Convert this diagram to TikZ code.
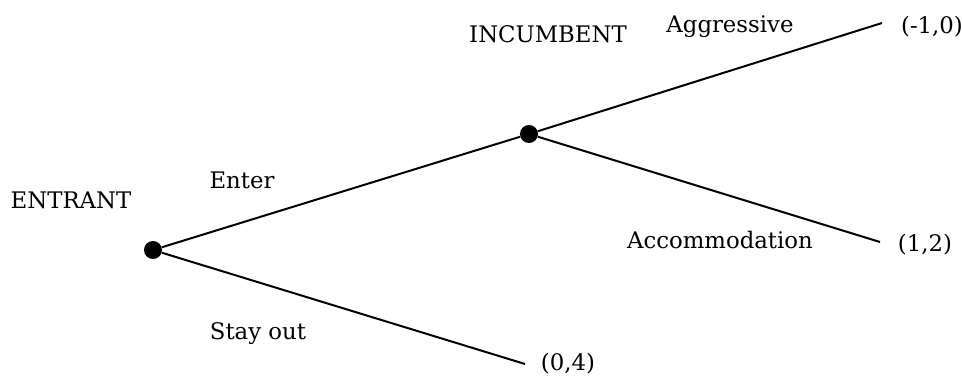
\documentclass[tikz,border=0pt]{standalone}
\usepackage{fontspec}
\setmainfont{DejaVu Serif}
\begin{document}
\begin{tikzpicture}[x=1pt,y=-1pt,
  lbl/.style={inner sep=0pt, font=\fontsize{22.8}{26}\selectfont},
  dot/.style={circle, fill=black, inner sep=0pt, minimum size=18pt},
  branch/.style={line width=2pt}]
\useasboundingbox (0,0) rectangle (962,377);
\node[dot] (root) at (153,250) {};
\node[dot] (inc) at (529,134) {};
\coordinate (agg) at (882,23);
\coordinate (acc) at (880,242);
\coordinate (out) at (525,364);
\draw[branch] (root) -- (inc);
\draw[branch] (root) -- (out);
\draw[branch] (inc) -- (agg);
\draw[branch] (inc) -- (acc);
\node[lbl] (lentrant) at (71,200) {ENTRANT};
\node[lbl] (lenter) at (242,180) {Enter};
\node[lbl] (lstay) at (258,334) {Stay out};
\node[lbl] (linc) at (548,34) {INCUMBENT};
\node[lbl] (laggr) at (730,27) {Aggressive};
\node[lbl] (lpay1) at (932,27) {(-1,0)};
\node[lbl] (lacc) at (720,240) {Accommodation};
\node[lbl] (lpay2) at (925,245) {(1,2)};
\node[lbl] (lpay3) at (568,364) {(0,4)};
\end{tikzpicture}
\end{document}
